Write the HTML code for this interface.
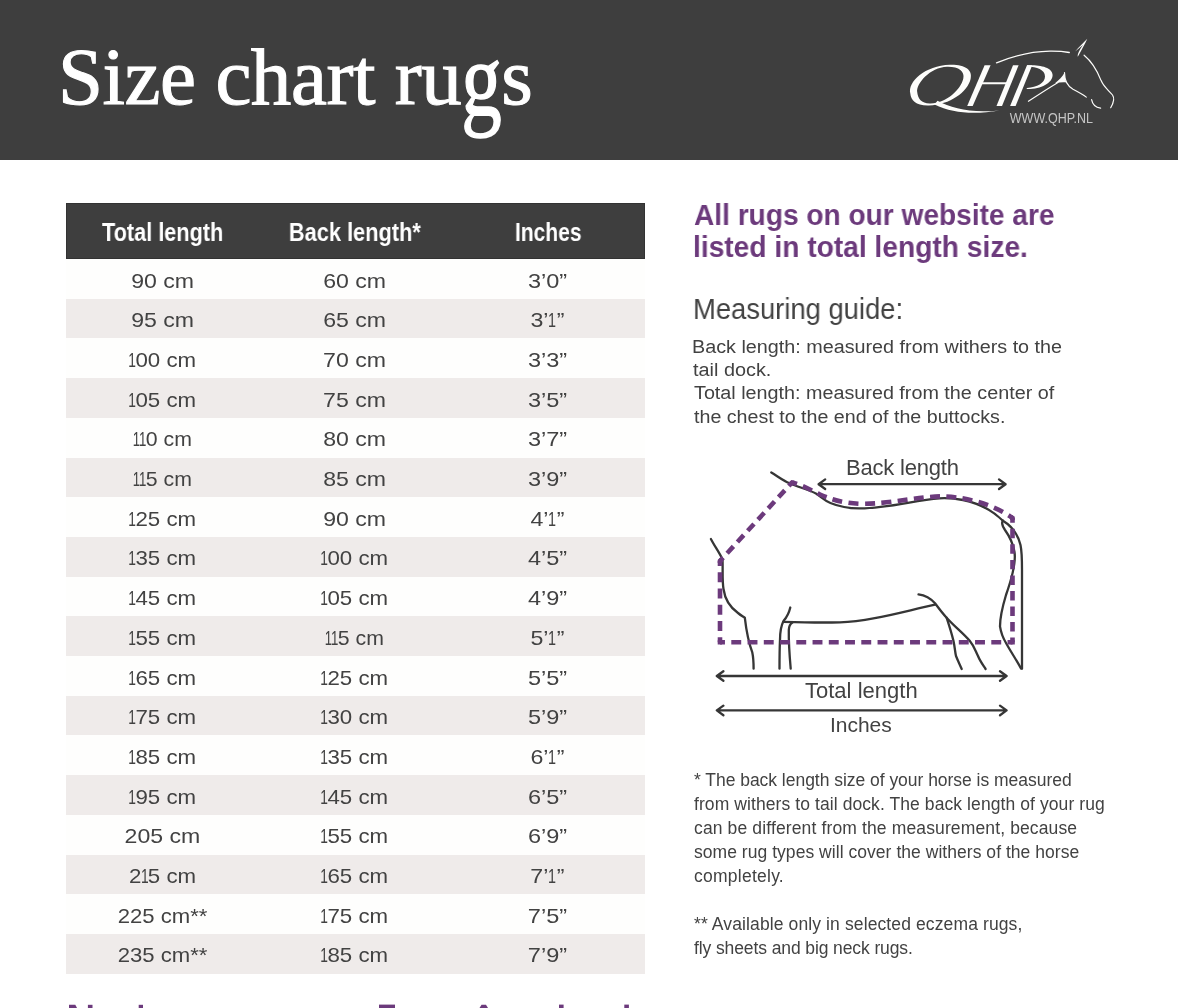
<!DOCTYPE html>
<html><head><meta charset="utf-8"><title>Size chart rugs</title>
<style>
html,body{margin:0;padding:0;background:#fff}
body{width:1178px;height:1008px;position:relative;overflow:hidden;font-family:"Liberation Sans",sans-serif}
.hdr{position:absolute;left:0;top:0;width:1178px;height:160px;background:#3e3e3e}
.th{position:absolute;left:66px;top:202.8px;width:578.6px;height:55.9px;background:#3e3e3e;box-sizing:border-box;border:1px solid #323232}
.r{position:absolute;left:66px;width:578.6px;height:39.7px}
.t{position:absolute;white-space:nowrap;will-change:transform;font-family:"Liberation Sans",sans-serif}
.sf{font-family:"Liberation Serif",serif}
.b{font-weight:700}
.gg{display:inline-block;transform-origin:50% 40.6px;transform:scaleY(1.3)}
.sf{-webkit-text-stroke:1.1px #fff}
svg{position:absolute;left:0;top:0;will-change:transform}
</style></head><body>
<div class="hdr"></div>
<div class="th"></div>
<div class="r" style="top:258.50px;height:40.25px;background:#fefefd"></div><div class="r" style="top:298.75px;height:39.7px;background:#efebea"></div><div class="r" style="top:338.45px;height:39.7px;background:#fefefd"></div><div class="r" style="top:378.15px;height:39.7px;background:#efebea"></div><div class="r" style="top:417.85px;height:39.7px;background:#fefefd"></div><div class="r" style="top:457.55px;height:39.7px;background:#efebea"></div><div class="r" style="top:497.25px;height:39.7px;background:#fefefd"></div><div class="r" style="top:536.95px;height:39.7px;background:#efebea"></div><div class="r" style="top:576.65px;height:39.7px;background:#fefefd"></div><div class="r" style="top:616.35px;height:39.7px;background:#efebea"></div><div class="r" style="top:656.05px;height:39.7px;background:#fefefd"></div><div class="r" style="top:695.75px;height:39.7px;background:#efebea"></div><div class="r" style="top:735.45px;height:39.7px;background:#fefefd"></div><div class="r" style="top:775.15px;height:39.7px;background:#efebea"></div><div class="r" style="top:814.85px;height:39.7px;background:#fefefd"></div><div class="r" style="top:854.55px;height:39.7px;background:#efebea"></div><div class="r" style="top:894.25px;height:39.7px;background:#fefefd"></div><div class="r" style="top:933.95px;height:39.7px;background:#efebea"></div>
<svg width="1178" height="1008" viewBox="0 0 1178 1008">
<g fill="#fdfdfb">
 <path fill-rule="evenodd" d="M910.3,93.5 C907.5,82 925,65.5 950,64.8 C965,64.4 973,70 970.6,79 C967.5,92 950,104.8 929,105.4 C916,105.8 911,100.5 910.3,93.5 Z
   M917.2,92 C915.8,84 930,67.2 947,66.7 C958.5,66.4 965,71 963.3,78.5 C961,89.5 946.5,103 930.5,103.5 C921.5,103.8 917.8,98.5 917.2,92 Z"/>
 <path d="M937.5,100.8 C952,108.5 972,113.5 999.2,110.4 C975,114.8 953,113.5 934.5,104.5 Z"/>
 <path d="M967.2,105.9 L972.7,105.9 L990.6,65.2 L984.6,65.2 Z"/>
 <path d="M996.5,105.9 L1002,105.9 L1018.6,65.2 L1013,65.2 Z"/>
 <path d="M981.2,82.2 L1007.5,82.2 L1007,84.3 L980.4,84.3 Z"/>
 <path d="M1010.1,105.9 L1015.6,105.9 L1032.2,65.2 L1027,65.2 Z"/>
 <path fill-rule="evenodd" d="M1027,65.2 C1040,64.8 1052.5,67 1052.6,75 C1052.6,83.5 1040,89.5 1026.5,89 L1027,88 C1037,87.2 1045,83 1045,76.5 C1045,70 1037,66.6 1027,66.6 Z"/>
</g>
<g fill="none" stroke="#fdfdfb" stroke-linecap="round">
 <path d="M996.5,62.8 C1012,56.5 1030,51.5 1050,51.2 C1058,51.1 1064,51.6 1069.3,52.5" stroke-width="1.3"/>
 <path d="M1084.1,55.2 C1090,60 1097,70 1101.1,80.6 C1104,87.5 1109,90.5 1112.5,95 C1115,98.5 1113.5,103 1110.7,107.7" stroke-width="1.2"/>
 <path d="M1091.6,99.7 C1092.5,104.5 1096,107.6 1100.6,108.2" stroke-width="1.2"/>
 <path d="M1028.4,101.3 C1038,95 1048,88.5 1058,82.5" stroke-width="1.1"/>
 <path d="M1064.5,72.7 C1064.5,80 1067.5,86 1073,89.2 C1078,91.8 1083,94.5 1086.3,97.1" stroke-width="1.2"/>
</g>
<g fill="#fdfdfb">
 <path d="M1075.1,51.4 C1079,47 1084,42 1087.3,38.7 C1085,44 1081,51 1077.8,56.8 C1077.2,54 1079.5,50 1083,45 C1080,47.5 1077.5,49.5 1075.1,51.4 Z"/>
 <path d="M1055,83.2 C1059,80 1062.5,76.5 1064.6,72.4 C1064.8,76.5 1065.2,79.5 1066.5,82.5 C1063,82 1059,82.5 1055,83.2 Z"/>
</g>
<text x="1009.8" y="123" fill="#c4c4c4" font-family="Liberation Sans" font-size="14.2" textLength="83.2" lengthAdjust="spacingAndGlyphs">WWW.QHP.NL</text>

<g fill="none" stroke="#363636" stroke-width="2.3" stroke-linecap="round" stroke-linejoin="round">
 <path d="M771.3,472.4 C778,476.5 783,480.5 789.6,483.3 C799,487.5 809,489.5 816.8,494.1 C822,497.5 825,501 830.4,503 C840,507 850,508.5 860,508.4 C890,508 915,500 939.4,498.3 C950,497.8 957,498.8 963,500 C980,503.5 993,511 1002.9,520.7"/>
 <path d="M1002.9,520.7 C1001,523 1003,527 1005,530 C1010,537 1013,543 1014.5,552 C1016,562 1012,578 1006,595 C1003,605 1000,617 1000,626.4 C1001,633 1003,638 1006,643 C1011,652 1017,661 1021,668.5"/>
 <path d="M1002.9,520.7 C1012,526 1018,535 1020.5,545 C1022,552 1022,560 1022,569.8 L1022,668.8"/>
 <path d="M710.9,539 C714.5,546 719,552 722.5,559.3 C723,570 722,580 723.5,589 C725,600 731,608 738,613 C741,615.5 743,616.5 744.8,617.7 C746,628 749.5,645 752.3,652.4 C753.5,658 753.6,664 753.6,668.7"/>
 <path d="M790.3,607.5 C789,613 786.5,617.5 783.5,621.1 C781,626 780,631 780,640 C779.5,650 779.5,660 779.5,668.7"/>
 <path d="M792.4,622.5 C790,624 789,626 788.8,630 C788.6,642 789.5,655 790.7,668.7"/>
 <path d="M783.5,621.8 C800,622.3 820,622.8 840,622.3 C870,621.5 905,611 935,604.7"/>
 <path d="M918.5,594.3 C924,595 930,597.5 935,603.3 C940,610 943,614 946.6,617.7 C955,627 963,633 969.7,640.8 C974,646 975,650 978,656 C980,661 983,665 985.6,669"/>
 <path d="M946.6,617.7 C949,625 951.5,633 953.5,641 C955,648 955,652 956,656 C958,661 960,665 961.7,669"/>
 <path d="M818.6,484.2 L1005.6,484.2 M825.2,479.4 L818.6,484.2 L825.2,489 M999,479.4 L1005.6,484.2 L999,489"/>
 <path d="M716.8,676 L1006.6,676 M723.4,671.2 L716.8,676 L723.4,680.8 M1000,671.2 L1006.6,676 L1000,680.8"/>
 <path d="M716.8,710.4 L1006.6,710.4 M723.4,705.6 L716.8,710.4 L723.4,715.2 M1000,705.6 L1006.6,710.4 L1000,715.2"/>
</g>
<g fill="none" stroke="#6c3a7c" stroke-width="4.6" stroke-linejoin="miter">
<path d="M720,642.3 L720,561" stroke-dasharray="9.92 6.34" stroke-dashoffset="4.96"/>
<path d="M720,561 L792,482.5" stroke-dasharray="9.28 5.93" stroke-dashoffset="4.64"/>
<path d="M792,482.5 C805,486 812,491 820,494.5 C828,498 840,503 860,503.8 C890,504 915,497 940,496.4 C960,496.3 990,502 1012.5,518" stroke-dasharray="9.98 6.38" stroke-dashoffset="4.99"/>
<path d="M1012.5,518 L1012.5,642.3" stroke-dasharray="9.48 6.06" stroke-dashoffset="4.74"/>
<path d="M1012.5,642.3 L720,642.3" stroke-dasharray="9.91 6.34" stroke-dashoffset="4.96"/>
<path d="M720,640.3 L720,642.3 L722,642.3"/><path d="M720,563 L720,561 L721.4,559.5"/><path d="M790.6,484 L792,482.5 L794,483"/><path d="M1010.8,516.8 L1012.5,518 L1012.5,520"/><path d="M1012.5,640.3 L1012.5,642.3 L1010.5,642.3"/>
</g>
<g fill="#6c3a7c">
<path d="M69,1004.8 L75.3,1004.8 L77,1008 L69,1008 Z"/><rect x="87.9" y="1004.8" width="4.6" height="4"/><rect x="138.7" y="1004.8" width="4.3" height="4"/>
<rect x="379" y="1004.6" width="16" height="4"/><path d="M481.5,1004.8 L486,1004.8 L488,1008 L479.5,1008 Z"/><rect x="559" y="1004.6" width="4.6" height="4"/><rect x="624.3" y="1004.6" width="4.6" height="4"/>
</g></svg>
<div class="t sf" style="left:58px;top:27px;font-size:81px;line-height:101px;color:#fff;letter-spacing:-0.464px">Size chart ru<span class="gg">g</span>s</div><div class="t b" style="left:89.50px;top:216px;font-size:26px;line-height:32px;color:#fff;transform-origin:72.50px 0;transform:scaleX(0.8345)">Total length</div><div class="t b" style="left:275.80px;top:216px;font-size:26px;line-height:32px;color:#fff;transform-origin:79.50px 0;transform:scaleX(0.8382)">Back length*</div><div class="t b" style="left:506.90px;top:216px;font-size:26px;line-height:32px;color:#fff;transform-origin:41.50px 0;transform:scaleX(0.8086)">Inches</div><div class="t" style="left:133.50px;top:268px;font-size:21px;line-height:26px;color:#424242;transform-origin:28.50px 0;transform:scaleX(1.1000)">90 cm</div><div class="t" style="left:326.30px;top:268px;font-size:21px;line-height:26px;color:#424242;transform-origin:28.50px 0;transform:scaleX(1.1000)">60 cm</div><div class="t" style="left:530.10px;top:268px;font-size:21px;line-height:26px;color:#424242;transform-origin:17.50px 0;transform:scaleX(1.1200)">3’0”</div><div class="t" style="left:133.50px;top:307px;font-size:21px;line-height:26px;color:#424242;transform-origin:28.50px 0;transform:scaleX(1.1000)">95 cm</div><div class="t" style="left:326.30px;top:307px;font-size:21px;line-height:26px;color:#424242;transform-origin:28.50px 0;transform:scaleX(1.1000)">65 cm</div><div class="t" style="left:532.10px;top:307px;font-size:21px;line-height:26px;color:#424242;transform-origin:15.50px 0;transform:scaleX(1.1039)">3’<span style="display:inline-block;width:7.6px;text-indent:-2.3px;transform:scaleX(.62);transform-origin:3.8px 0">1</span>”</div><div class="t" style="left:130.50px;top:347px;font-size:21px;line-height:26px;color:#424242;transform-origin:31.50px 0;transform:scaleX(1.0603)"><span style="display:inline-block;width:6px;text-indent:-3.1px;transform:scaleX(.62);transform-origin:3px 0">1</span>00 cm</div><div class="t" style="left:325.80px;top:347px;font-size:21px;line-height:26px;color:#424242;transform-origin:29.00px 0;transform:scaleX(1.1000)">70 cm</div><div class="t" style="left:530.10px;top:347px;font-size:21px;line-height:26px;color:#424242;transform-origin:17.50px 0;transform:scaleX(1.1200)">3’3”</div><div class="t" style="left:130.50px;top:387px;font-size:21px;line-height:26px;color:#424242;transform-origin:31.50px 0;transform:scaleX(1.0603)"><span style="display:inline-block;width:6px;text-indent:-3.1px;transform:scaleX(.62);transform-origin:3px 0">1</span>05 cm</div><div class="t" style="left:325.80px;top:387px;font-size:21px;line-height:26px;color:#424242;transform-origin:29.00px 0;transform:scaleX(1.1000)">75 cm</div><div class="t" style="left:530.10px;top:387px;font-size:21px;line-height:26px;color:#424242;transform-origin:17.50px 0;transform:scaleX(1.1200)">3’5”</div><div class="t" style="left:133.50px;top:426px;font-size:21px;line-height:26px;color:#424242;transform-origin:28.50px 0;transform:scaleX(1.0123)"><span style="display:inline-block;width:6px;text-indent:-3.1px;transform:scaleX(.62);transform-origin:3px 0">1</span><span style="display:inline-block;width:6px;text-indent:-3.1px;transform:scaleX(.62);transform-origin:3px 0">1</span>0 cm</div><div class="t" style="left:326.30px;top:426px;font-size:21px;line-height:26px;color:#424242;transform-origin:28.50px 0;transform:scaleX(1.1000)">80 cm</div><div class="t" style="left:530.10px;top:426px;font-size:21px;line-height:26px;color:#424242;transform-origin:17.50px 0;transform:scaleX(1.1200)">3’7”</div><div class="t" style="left:133.50px;top:466px;font-size:21px;line-height:26px;color:#424242;transform-origin:28.50px 0;transform:scaleX(1.0123)"><span style="display:inline-block;width:6px;text-indent:-3.1px;transform:scaleX(.62);transform-origin:3px 0">1</span><span style="display:inline-block;width:6px;text-indent:-3.1px;transform:scaleX(.62);transform-origin:3px 0">1</span>5 cm</div><div class="t" style="left:326.30px;top:466px;font-size:21px;line-height:26px;color:#424242;transform-origin:28.50px 0;transform:scaleX(1.1000)">85 cm</div><div class="t" style="left:530.10px;top:466px;font-size:21px;line-height:26px;color:#424242;transform-origin:17.50px 0;transform:scaleX(1.1200)">3’9”</div><div class="t" style="left:130.50px;top:506px;font-size:21px;line-height:26px;color:#424242;transform-origin:31.50px 0;transform:scaleX(1.0603)"><span style="display:inline-block;width:6px;text-indent:-3.1px;transform:scaleX(.62);transform-origin:3px 0">1</span>25 cm</div><div class="t" style="left:326.30px;top:506px;font-size:21px;line-height:26px;color:#424242;transform-origin:28.50px 0;transform:scaleX(1.1000)">90 cm</div><div class="t" style="left:532.10px;top:506px;font-size:21px;line-height:26px;color:#424242;transform-origin:15.50px 0;transform:scaleX(1.1039)">4’<span style="display:inline-block;width:7.6px;text-indent:-2.3px;transform:scaleX(.62);transform-origin:3.8px 0">1</span>”</div><div class="t" style="left:130.50px;top:545px;font-size:21px;line-height:26px;color:#424242;transform-origin:31.50px 0;transform:scaleX(1.0603)"><span style="display:inline-block;width:6px;text-indent:-3.1px;transform:scaleX(.62);transform-origin:3px 0">1</span>35 cm</div><div class="t" style="left:323.30px;top:545px;font-size:21px;line-height:26px;color:#424242;transform-origin:31.50px 0;transform:scaleX(1.0603)"><span style="display:inline-block;width:6px;text-indent:-3.1px;transform:scaleX(.62);transform-origin:3px 0">1</span>00 cm</div><div class="t" style="left:530.10px;top:545px;font-size:21px;line-height:26px;color:#424242;transform-origin:17.50px 0;transform:scaleX(1.1200)">4’5”</div><div class="t" style="left:130.50px;top:585px;font-size:21px;line-height:26px;color:#424242;transform-origin:31.50px 0;transform:scaleX(1.0603)"><span style="display:inline-block;width:6px;text-indent:-3.1px;transform:scaleX(.62);transform-origin:3px 0">1</span>45 cm</div><div class="t" style="left:323.30px;top:585px;font-size:21px;line-height:26px;color:#424242;transform-origin:31.50px 0;transform:scaleX(1.0603)"><span style="display:inline-block;width:6px;text-indent:-3.1px;transform:scaleX(.62);transform-origin:3px 0">1</span>05 cm</div><div class="t" style="left:530.10px;top:585px;font-size:21px;line-height:26px;color:#424242;transform-origin:17.50px 0;transform:scaleX(1.1200)">4’9”</div><div class="t" style="left:130.50px;top:625px;font-size:21px;line-height:26px;color:#424242;transform-origin:31.50px 0;transform:scaleX(1.0603)"><span style="display:inline-block;width:6px;text-indent:-3.1px;transform:scaleX(.62);transform-origin:3px 0">1</span>55 cm</div><div class="t" style="left:326.30px;top:625px;font-size:21px;line-height:26px;color:#424242;transform-origin:28.50px 0;transform:scaleX(1.0123)"><span style="display:inline-block;width:6px;text-indent:-3.1px;transform:scaleX(.62);transform-origin:3px 0">1</span><span style="display:inline-block;width:6px;text-indent:-3.1px;transform:scaleX(.62);transform-origin:3px 0">1</span>5 cm</div><div class="t" style="left:532.10px;top:625px;font-size:21px;line-height:26px;color:#424242;transform-origin:15.50px 0;transform:scaleX(1.1039)">5’<span style="display:inline-block;width:7.6px;text-indent:-2.3px;transform:scaleX(.62);transform-origin:3.8px 0">1</span>”</div><div class="t" style="left:130.50px;top:665px;font-size:21px;line-height:26px;color:#424242;transform-origin:31.50px 0;transform:scaleX(1.0603)"><span style="display:inline-block;width:6px;text-indent:-3.1px;transform:scaleX(.62);transform-origin:3px 0">1</span>65 cm</div><div class="t" style="left:323.30px;top:665px;font-size:21px;line-height:26px;color:#424242;transform-origin:31.50px 0;transform:scaleX(1.0603)"><span style="display:inline-block;width:6px;text-indent:-3.1px;transform:scaleX(.62);transform-origin:3px 0">1</span>25 cm</div><div class="t" style="left:530.10px;top:665px;font-size:21px;line-height:26px;color:#424242;transform-origin:17.50px 0;transform:scaleX(1.1200)">5’5”</div><div class="t" style="left:130.50px;top:704px;font-size:21px;line-height:26px;color:#424242;transform-origin:31.50px 0;transform:scaleX(1.0603)"><span style="display:inline-block;width:6px;text-indent:-3.1px;transform:scaleX(.62);transform-origin:3px 0">1</span>75 cm</div><div class="t" style="left:323.30px;top:704px;font-size:21px;line-height:26px;color:#424242;transform-origin:31.50px 0;transform:scaleX(1.0603)"><span style="display:inline-block;width:6px;text-indent:-3.1px;transform:scaleX(.62);transform-origin:3px 0">1</span>30 cm</div><div class="t" style="left:530.10px;top:704px;font-size:21px;line-height:26px;color:#424242;transform-origin:17.50px 0;transform:scaleX(1.1200)">5’9”</div><div class="t" style="left:130.50px;top:744px;font-size:21px;line-height:26px;color:#424242;transform-origin:31.50px 0;transform:scaleX(1.0603)"><span style="display:inline-block;width:6px;text-indent:-3.1px;transform:scaleX(.62);transform-origin:3px 0">1</span>85 cm</div><div class="t" style="left:323.30px;top:744px;font-size:21px;line-height:26px;color:#424242;transform-origin:31.50px 0;transform:scaleX(1.0603)"><span style="display:inline-block;width:6px;text-indent:-3.1px;transform:scaleX(.62);transform-origin:3px 0">1</span>35 cm</div><div class="t" style="left:532.10px;top:744px;font-size:21px;line-height:26px;color:#424242;transform-origin:15.50px 0;transform:scaleX(1.1039)">6’<span style="display:inline-block;width:7.6px;text-indent:-2.3px;transform:scaleX(.62);transform-origin:3.8px 0">1</span>”</div><div class="t" style="left:130.50px;top:784px;font-size:21px;line-height:26px;color:#424242;transform-origin:31.50px 0;transform:scaleX(1.0603)"><span style="display:inline-block;width:6px;text-indent:-3.1px;transform:scaleX(.62);transform-origin:3px 0">1</span>95 cm</div><div class="t" style="left:323.30px;top:784px;font-size:21px;line-height:26px;color:#424242;transform-origin:31.50px 0;transform:scaleX(1.0603)"><span style="display:inline-block;width:6px;text-indent:-3.1px;transform:scaleX(.62);transform-origin:3px 0">1</span>45 cm</div><div class="t" style="left:530.10px;top:784px;font-size:21px;line-height:26px;color:#424242;transform-origin:17.50px 0;transform:scaleX(1.1200)">6’5”</div><div class="t" style="left:128.00px;top:823px;font-size:21px;line-height:26px;color:#424242;transform-origin:34.00px 0;transform:scaleX(1.1000)">205 cm</div><div class="t" style="left:323.30px;top:823px;font-size:21px;line-height:26px;color:#424242;transform-origin:31.50px 0;transform:scaleX(1.0603)"><span style="display:inline-block;width:6px;text-indent:-3.1px;transform:scaleX(.62);transform-origin:3px 0">1</span>55 cm</div><div class="t" style="left:530.10px;top:823px;font-size:21px;line-height:26px;color:#424242;transform-origin:17.50px 0;transform:scaleX(1.1200)">6’9”</div><div class="t" style="left:130.50px;top:863px;font-size:21px;line-height:26px;color:#424242;transform-origin:31.50px 0;transform:scaleX(1.0603)">2<span style="display:inline-block;width:6px;text-indent:-3.1px;transform:scaleX(.62);transform-origin:3px 0">1</span>5 cm</div><div class="t" style="left:323.30px;top:863px;font-size:21px;line-height:26px;color:#424242;transform-origin:31.50px 0;transform:scaleX(1.0603)"><span style="display:inline-block;width:6px;text-indent:-3.1px;transform:scaleX(.62);transform-origin:3px 0">1</span>65 cm</div><div class="t" style="left:531.60px;top:863px;font-size:21px;line-height:26px;color:#424242;transform-origin:16.00px 0;transform:scaleX(1.1033)">7’<span style="display:inline-block;width:7.6px;text-indent:-2.3px;transform:scaleX(.62);transform-origin:3.8px 0">1</span>”</div><div class="t" style="left:119.50px;top:903px;font-size:21px;line-height:26px;color:#424242;transform-origin:42.50px 0;transform:scaleX(1.0529)">225 cm**</div><div class="t" style="left:323.30px;top:903px;font-size:21px;line-height:26px;color:#424242;transform-origin:31.50px 0;transform:scaleX(1.0603)"><span style="display:inline-block;width:6px;text-indent:-3.1px;transform:scaleX(.62);transform-origin:3px 0">1</span>75 cm</div><div class="t" style="left:529.60px;top:903px;font-size:21px;line-height:26px;color:#424242;transform-origin:18.00px 0;transform:scaleX(1.1200)">7’5”</div><div class="t" style="left:119.50px;top:942px;font-size:21px;line-height:26px;color:#424242;transform-origin:42.50px 0;transform:scaleX(1.0529)">235 cm**</div><div class="t" style="left:323.30px;top:942px;font-size:21px;line-height:26px;color:#424242;transform-origin:31.50px 0;transform:scaleX(1.0603)"><span style="display:inline-block;width:6px;text-indent:-3.1px;transform:scaleX(.62);transform-origin:3px 0">1</span>85 cm</div><div class="t" style="left:529.60px;top:942px;font-size:21px;line-height:26px;color:#424242;transform-origin:18.00px 0;transform:scaleX(1.1200)">7’9”</div><div class="t b" style="left:693.80px;top:196px;font-size:29.5px;line-height:37px;color:#6c3a7c;transform-origin:0 0;transform:scaleX(0.9521)">All rugs on our website are</div><div class="t b" style="left:692.85px;top:228px;font-size:29.5px;line-height:37px;color:#6c3a7c;transform-origin:0 0;transform:scaleX(0.9547)">listed in total length size.</div><div class="t" style="left:693.46px;top:291px;font-size:29px;line-height:36px;color:#424242;transform-origin:0 0;transform:scaleX(0.9441)">Measuring guide:</div><div class="t" style="left:692.40px;top:336px;font-size:18px;line-height:22px;color:#424242;transform-origin:0 0;transform:scaleX(1.0976)">Back length: measured from withers to the</div><div class="t" style="left:693.30px;top:359px;font-size:18px;line-height:22px;color:#424242;transform-origin:0 0;transform:scaleX(1.1029)">tail dock.</div><div class="t" style="left:693.50px;top:382px;font-size:18px;line-height:22px;color:#424242;transform-origin:0 0;transform:scaleX(1.0976)">Total length: measured from the center of</div><div class="t" style="left:693.50px;top:406px;font-size:18px;line-height:22px;color:#424242;transform-origin:0 0;transform:scaleX(1.0919)">the chest to the end of the buttocks.</div><div class="t" style="left:846px;top:454px;font-size:22px;line-height:28px;color:#424242;letter-spacing:-0.210px">Back length</div><div class="t" style="left:805px;top:677px;font-size:22px;line-height:28px;color:#424242;letter-spacing:0.009px">Total length</div><div class="t" style="left:830px;top:712px;font-size:21px;line-height:26px;color:#424242;letter-spacing:-0.040px">Inches</div><div class="t" style="left:694px;top:769px;font-size:17.5px;line-height:22px;color:#424242;letter-spacing:-0.030px">* The back length size of your horse is measured</div><div class="t" style="left:694px;top:793px;font-size:17.5px;line-height:22px;color:#424242;letter-spacing:0.085px">from withers to tail dock. The back length of your rug</div><div class="t" style="left:694px;top:817px;font-size:17.5px;line-height:22px;color:#424242;letter-spacing:0.133px">can be different from the measurement, because</div><div class="t" style="left:694px;top:841px;font-size:17.5px;line-height:22px;color:#424242;letter-spacing:0.041px">some rug types will cover the withers of the horse</div><div class="t" style="left:694px;top:865px;font-size:17.5px;line-height:22px;color:#424242;letter-spacing:0.250px">completely.</div><div class="t" style="left:694px;top:913px;font-size:17.5px;line-height:22px;color:#424242;letter-spacing:0.115px">** Available only in selected eczema rugs,</div><div class="t" style="left:694px;top:937px;font-size:17.5px;line-height:22px;color:#424242;letter-spacing:-0.104px">fly sheets and big neck rugs.</div>
</body></html>
